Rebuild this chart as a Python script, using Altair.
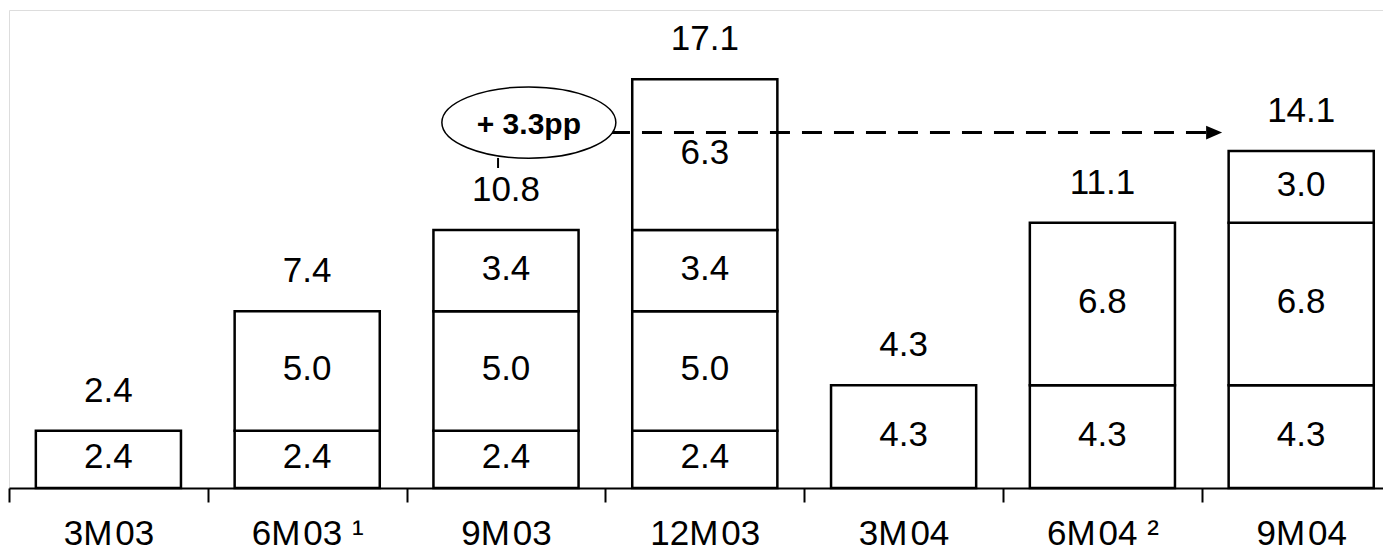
import json
import altair as alt
import pandas as pd

HS = "\u200a"  # narrow gap between month and year
categories = [f"3M{HS}03", f"6M{HS}03 ¹", f"9M{HS}03", f"12M{HS}03",
              f"3M{HS}04", f"6M{HS}04 ²", f"9M{HS}04"]
segments = [
    [2.4],
    [2.4, 5.0],
    [2.4, 5.0, 3.4],
    [2.4, 5.0, 3.4, 6.3],
    [4.3],
    [4.3, 6.8],
    [4.3, 6.8, 3.0],
]
totals = [2.4, 7.4, 10.8, 17.1, 4.3, 11.1, 14.1]

# annotation (in data units: x = band index position, y = value scale)
bubble_text = ["+ 3.3pp"]
bubble_x = [2.615]
bubble_y = [15.29]
stem_x = [2.46]
stem_y = [13.39]
stem_y2 = [13.81]
arrow_x = [3.023]
arrow_x2 = [6.03]
arrow_y = [14.87]
head_x = [6.062]

FONT = "Liberation Sans"
N = len(categories)

rows = []
for cat, segs in zip(categories, segments):
    for i, v in enumerate(segs):
        rows.append({"cat": cat, "seg": i, "value": v})
seg_df = pd.DataFrame(rows)
tot_df = pd.DataFrame({"cat": categories, "total": totals})
bub_df = pd.DataFrame({"x": bubble_x, "y": bubble_y, "t": bubble_text})
stem_df = pd.DataFrame({"x": stem_x, "y": stem_y, "y2": stem_y2})
arr_df = pd.DataFrame({"x": arrow_x, "x2": arrow_x2, "y": arrow_y})
head_df = pd.DataFrame({"x": head_x, "y": arrow_y})

yscale = alt.Scale(domain=[0, 20])
xband = alt.X(
    "cat:N",
    sort=categories,
    scale=alt.Scale(domain=categories, paddingInner=0.27, paddingOuter=0.135),
    axis=None,
)

bars = alt.Chart(seg_df).mark_bar(
    fill="white", stroke="black", strokeWidth=2.5, opacity=1
).encode(
    x=xband,
    y=alt.Y("value:Q", stack="zero", scale=yscale, axis=None),
    order=alt.Order("seg:Q"),
    detail="seg:N",
)

seg_labels = alt.Chart(seg_df).transform_stack(
    stack="value", groupby=["cat"], as_=["v0", "v1"], sort=[alt.SortField("seg")]
).transform_calculate(
    mid="(datum.v0 + datum.v1) / 2"
).mark_text(
    font=FONT, fontSize=35, color="black", baseline="middle", dy=-2
).encode(
    x=alt.X("cat:N", sort=categories),
    y=alt.Y("mid:Q", scale=yscale),
    text=alt.Text("value:Q", format=".1f"),
)

tot_labels = alt.Chart(tot_df).mark_text(
    font=FONT, fontSize=35, color="black", baseline="alphabetic", dy=-29
).encode(
    x=alt.X("cat:N", sort=categories),
    y=alt.Y("total:Q", scale=yscale),
    text=alt.Text("total:Q", format=".1f"),
)

main = alt.layer(bars, seg_labels, tot_labels)

# category axis on a continuous index scale: ticks at band boundaries, labels at band centres
axis_values = [i / 2 for i in range(2 * N + 1)]
label_expr = ("datum.value % 1 == 0.5 ? " + json.dumps(categories, ensure_ascii=False)
              + "[floor(datum.value)] : ''")
xq = alt.Scale(domain=[0, N])
xaxis = alt.Axis(
    orient="bottom", title=None, values=axis_values, labelExpr=label_expr,
    labelAngle=0, labelOverlap=False, labelFlush=False, grid=False,
    domainColor="black", domainWidth=2,
    tickColor="black", tickWidth=2, tickSize=14,
    tickOpacity={"condition": {"test": "datum.value % 1 == 0", "value": 1}, "value": 0},
    labelFont=FONT, labelFontSize=35, labelColor="black",
    labelBaseline="alphabetic", labelPadding=42,
)

arrow = alt.Chart(arr_df).mark_rule(
    stroke="black", strokeWidth=3, strokeDash=[20, 12]
).encode(
    x=alt.X("x:Q", scale=xq, axis=xaxis),
    x2="x2:Q",
    y=alt.Y("y:Q", scale=yscale),
)
head = alt.Chart(head_df).mark_point(
    shape="M-1,-0.85 L1,0 L-1,0.85 Z", size=256, filled=True,
    fill="black", stroke="black", strokeWidth=0, opacity=1
).encode(
    x=alt.X("x:Q", scale=xq),
    y=alt.Y("y:Q", scale=yscale),
)
stem = alt.Chart(stem_df).mark_rule(stroke="black", strokeWidth=2).encode(
    x=alt.X("x:Q", scale=xq),
    y=alt.Y("y:Q", scale=yscale),
    y2="y2:Q",
)
ellipse_path = ("M-1,0 C-1,-0.226 -0.552,-0.41 0,-0.41 C0.552,-0.41 1,-0.226 1,0 "
                "C1,0.226 0.552,0.41 0,0.41 C-0.552,0.41 -1,0.226 -1,0 Z")
bubble = alt.Chart(bub_df).mark_point(
    shape=ellipse_path, size=174 * 174, filled=False, fill="white",
    stroke="black", strokeWidth=1.5, opacity=1, fillOpacity=1
).encode(
    x=alt.X("x:Q", scale=xq),
    y=alt.Y("y:Q", scale=yscale),
)
bubble_label = alt.Chart(bub_df).mark_text(
    font=FONT, fontSize=30, fontWeight="bold", color="black", baseline="middle", dy=2
).encode(
    x=alt.X("x:Q", scale=xq),
    y=alt.Y("y:Q", scale=yscale),
    text="t:N",
)
annot = alt.layer(arrow, head, stem, bubble, bubble_label)

# plot is wider than the page box; the last band runs past the right edge as in the source
chart = alt.layer(main, annot).resolve_scale(x="independent").properties(
    width=1391.6, height=478,
    autosize=alt.AutoSizeParams(type="none"),
    padding={"left": 1, "top": 2, "right": -17.6, "bottom": 64},
).configure_view(strokeWidth=0, stroke="transparent").configure(background="white")

chart.save("out.html", embed_options={"renderer": "svg", "actions": False})
